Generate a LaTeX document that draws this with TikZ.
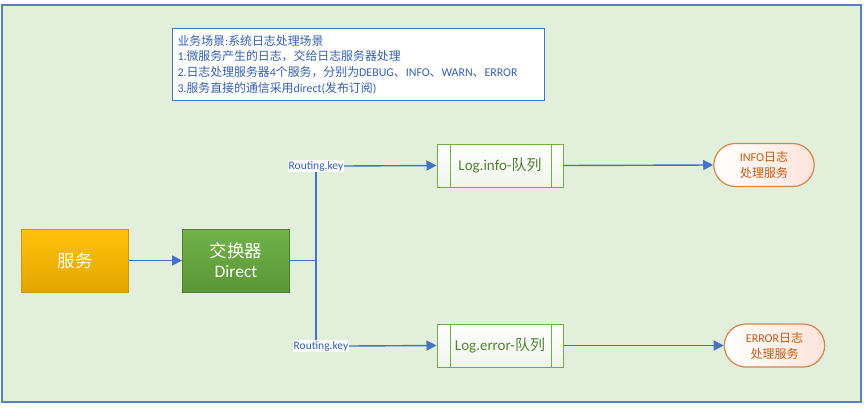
\documentclass[tikz,border=0pt]{standalone}
\usepackage{fontspec}
\setmainfont{Carlito}
\newfontfamily\cjk{Noto Sans CJK SC}
\usetikzlibrary{arrows.meta,shapes.misc,calc}
\definecolor{bgg}{HTML}{E2EFDA}
\definecolor{bl}{HTML}{4472C4}
\definecolor{frb}{HTML}{5B7FC4}
\definecolor{txtb}{HTML}{3560B0}
\definecolor{gold1}{HTML}{FFC20A}
\definecolor{gold2}{HTML}{E2A500}
\definecolor{goldb}{HTML}{C99A06}
\definecolor{gr1}{HTML}{70B247}
\definecolor{gr2}{HTML}{5A9637}
\definecolor{grb}{HTML}{507E32}
\definecolor{qb}{HTML}{70AD47}
\definecolor{qt}{HTML}{548235}
\definecolor{ob}{HTML}{D9834A}
\definecolor{ot}{HTML}{C55A11}
\definecolor{pink}{HTML}{FCE4DA}
\tikzset{
  conn/.style={draw=bl,line width=1.4pt},
  arr/.style={conn,-{Triangle[length=10pt,width=10pt]}},
  bigbox/.style={draw,line width=0.8pt,minimum width=107pt,minimum height=63pt,text=white,align=center,font=\fontsize{17.5pt}{22pt}\selectfont},
  qbox/.style={draw=qb,line width=1pt,minimum width=126pt,minimum height=43pt,top color=white,bottom color=white!88!qb,shading angle=0,text=qt,font=\fontsize{15pt}{18pt}\selectfont},
  sbox/.style={rounded rectangle,draw=ob,line width=1.2pt,minimum width=107pt,minimum height=43pt,left color=white,right color=pink,text=ot,align=center,font=\fontsize{12pt}{16pt}\selectfont},
  rk/.style={fill=white,inner sep=0.6pt,text=txtb,font=\fontsize{11.5pt}{13pt}\selectfont},
}
\begin{document}
\begin{tikzpicture}[x=1pt,y=-1pt]
\useasboundingbox (0,0) rectangle (864,412);
\fill[white] (0,0) rectangle (864,412);
\node[draw=frb,line width=2pt,fill=bgg,minimum width=859pt,minimum height=396pt,inner sep=0pt] (frame) at (431,203.5) {};
\node[draw=bl,line width=1pt,fill=white,anchor=north west,minimum width=372pt,minimum height=72pt,text width=362pt,inner xsep=5pt,inner ysep=3pt,align=left,text=txtb,font=\fontsize{11.9pt}{15.7pt}\selectfont] (desc) at (172,28)
{{\cjk 业务场景}:{\cjk 系统日志处理场景}\\
1.{\cjk 微服务产生的日志，交给日志服务器处理}\\
2.{\cjk 日志处理服务器}4{\cjk 个服务，分别为}DEBUG{\cjk 、}INFO{\cjk 、}WARN{\cjk 、}ERROR\\
3.{\cjk 服务直接的通信采用}direct({\cjk 发布订阅})};
\node[bigbox,draw=goldb,top color=gold1,bottom color=gold2] (svc) at (75,260.5) {\cjk 服务};
\node[bigbox,draw=grb,top color=gr1,bottom color=gr2] (ex) at (236,260.5) {{\cjk 交换器}\\[-2pt]Direct};
\coordinate (j) at (316,260.5);
\coordinate (jt) at (316,166);
\coordinate (jb) at (316,346);
\draw[conn] (ex.east) -- (j);
\draw[conn] (jt) -- (jb);
\node[rk] (rk1) at (316,166) {Routing.key};
\node[rk] (rk2) at (321,346) {Routing.key};
\node[qbox] (q1) at (500,165.5) {Log.info-{\cjk 队列}};
\node[qbox] (q2) at (500,345.5) {Log.error-{\cjk 队列}};
\foreach \q in {q1,q2}{
  \draw[qb,line width=1pt] ($(\q.north west)+(14,0)$) -- ($(\q.south west)+(14,0)$);
  \draw[qb,line width=1pt] ($(\q.north east)+(-12,0)$) -- ($(\q.south east)+(-12,0)$);
}
\node[sbox] (s1) at (764,165) {INFO{\cjk 日志}\\{\cjk 处理服务}};
\node[sbox] (s2) at (774.5,345.5) {ERROR{\cjk 日志}\\{\cjk 处理服务}};
\draw[arr] (svc.east) -- (ex.west);
\draw[arr] (rk1.east) -- (q1.west);
\draw[arr] (rk2.east) -- (q2.west);
\draw[arr] (q1.east) -- (s1.west);
\draw[arr] (q2.east) -- (s2.west);
\end{tikzpicture}
\end{document}
